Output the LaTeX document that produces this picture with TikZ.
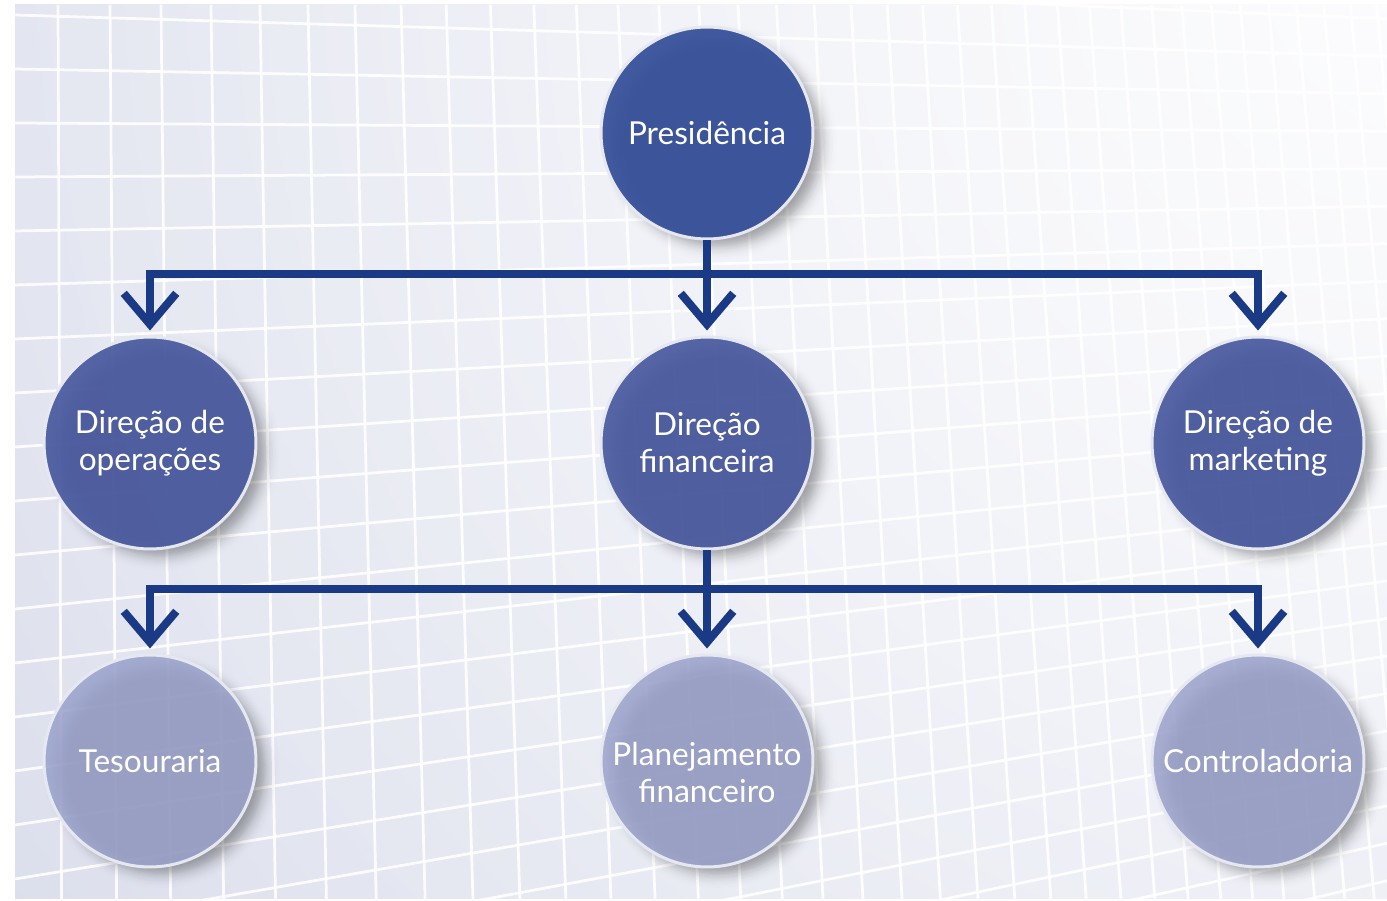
\documentclass[tikz,border=0pt]{standalone}
\usepackage{fontspec}
\setmainfont{Lato}
\usetikzlibrary{arrows.meta,shadows,fadings}

\definecolor{bgouter}{HTML}{CBD0E3}
\definecolor{bginner}{HTML}{F1F2F8}
\definecolor{topfill}{HTML}{36509A}
\definecolor{midfill}{HTML}{4A5A9F}
\definecolor{lowfill}{HTML}{9AA2CB}
\definecolor{rimcol}{HTML}{E6E8F1}
\definecolor{linkcol}{HTML}{1B3A85}

\tikzfading[name=glowfade, inner color=transparent!0, outer color=transparent!100]

\tikzset{
  gridline/.style={draw=white, line width=0.055cm, opacity=0.9},
  unitcircle/.style={
    circle, minimum size=4.24cm, inner sep=0pt,
    draw=rimcol, line width=0.06cm,
    text=white, text opacity=1, align=center,
    font=\fontsize{18}{21}\selectfont,
    circular drop shadow={shadow xshift=0.2cm, shadow yshift=-0.16cm, shadow scale=1.12, opacity=0.05, fill=black},
    circular drop shadow={shadow xshift=0.2cm, shadow yshift=-0.16cm, shadow scale=1.09, opacity=0.06, fill=black},
    circular drop shadow={shadow xshift=0.2cm, shadow yshift=-0.16cm, shadow scale=1.06, opacity=0.08, fill=black},
    circular drop shadow={shadow xshift=0.2cm, shadow yshift=-0.16cm, shadow scale=1.03, opacity=0.10, fill=black},
    circular drop shadow={shadow xshift=0.2cm, shadow yshift=-0.16cm, shadow scale=1.00, opacity=0.13, fill=black}
  },
  topunit/.style={unitcircle, fill=topfill, fill opacity=0.94},
  midunit/.style={unitcircle, fill=midfill, fill opacity=0.93},
  lowunit/.style={unitcircle, fill=lowfill, fill opacity=0.86},
  link/.style={draw=linkcol, line width=0.16cm,
    -{Straight Barb[length=0.62cm, width=1.05cm]}, shorten >=0.1cm}
}

\begin{document}
\begin{tikzpicture}[x=0.02cm, y=-0.02cm]
\useasboundingbox (0,0) rectangle (1387,901);

% backdrop: soft shaded panel with a receding white grid
\begin{scope}
  \clip (15,5) rectangle (1387,899);
  \fill[bgouter] (15,5) rectangle (1387,899);
  \shade[inner color=bginner, outer color=bgouter] (1450,-50) circle[radius=52cm];
  \foreach \k in {-2,...,24} {
    \pgfmathsetmacro\ya{15+54*\k}
    \pgfmathsetmacro\yb{\ya+0.306*(150-\ya)}
    \draw[gridline] (15,\ya) -- (1387,\yb);
  }
  \foreach \n in {0,...,42} {
    \pgfmathsetmacro\xt{58+2600*(1-0.98^\n)}
    \pgfmathsetmacro\xb{1.06*\xt}
    \draw[gridline] (\xt,5) -- (\xb,899);
  }
  % light haze washing out the upper right of the grid
  \fill[white, fill opacity=0.8, path fading=glowfade] (1400,-20) circle[radius=38cm];
\end{scope}

% organisation units
\node[topunit] (pres) at (707,133) {Presidência};
\node[midunit] (ops)  at (150,443) {Direção de\\operações};
\node[midunit] (fin)  at (707,443) {Direção\\financeira};
\node[midunit] (mkt)  at (1258,443) {Direção de\\marketing};
\node[lowunit] (tes)  at (150,761) {Tesouraria};
\node[lowunit] (plan) at (707,761) {\raisebox{-0.32cm}[\height][\depth]{\begin{tabular}{@{}c@{}}Planejamento\\financeiro\end{tabular}}};
\node[lowunit] (ctrl) at (1258,761) {Controladoria};

% branching points of the two distribution bars
\coordinate (j1) at (707,274);
\coordinate (j2) at (707,589);

% reporting lines
\draw[link] (pres) -- (fin);
\draw[link] (j1) -| (ops);
\draw[link] (j1) -| (mkt);
\draw[link] (fin) -- (plan);
\draw[link] (j2) -| (tes);
\draw[link] (j2) -| (ctrl);
\end{tikzpicture}
\end{document}
